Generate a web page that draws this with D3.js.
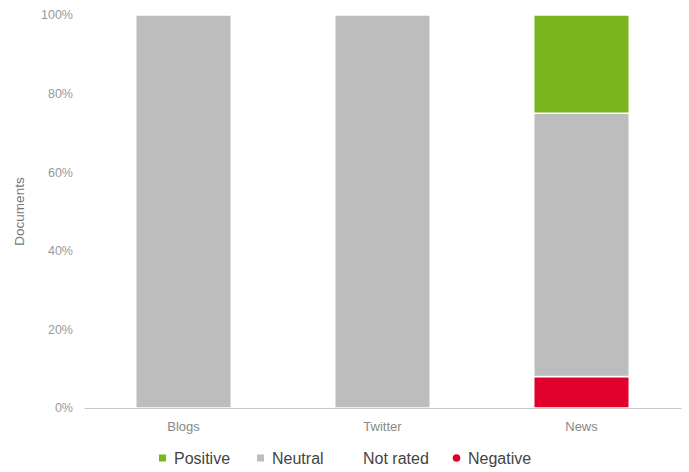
<!DOCTYPE html>
<html>
<head>
<meta charset="utf-8">
<script src="https://cdn.jsdelivr.net/npm/d3@7"></script>
<style>
  body { margin: 0; background: #fff; }
  svg { font-family: Arial, "Liberation Sans", sans-serif; }
</style>
</head>
<body>
<svg id="chart"></svg>
<script>
var width = 689;
var height = 472;
var margin = ({top: 15, right: 8, bottom: 64, left: 84});

// data (percent of documents)
var sources = ["Blogs", "Twitter", "News"];
var sentiments = ["Negative", "Not rated", "Neutral", "Positive"];
var negative = [0, 0, 8];
var notRated = [0, 0, 0];
var neutral = [100, 100, 67];
var positive = [0, 0, 25];
var yTicks = [0, 20, 40, 60, 80, 100];
var legendOrder = ["Positive", "Neutral", "Not rated", "Negative"];

var colors = {"Positive": "#7ab51d", "Neutral": "#bdbdbd", "Not rated": "#ffffff", "Negative": "#e0002b"};

var table = sources.map((s, i) => ({
    source: s,
    "Negative": negative[i],
    "Not rated": notRated[i],
    "Neutral": neutral[i],
    "Positive": positive[i]
}));

var x = d3.scaleBand()
    .domain(sources)
    .range([margin.left, width - margin.right])
    .paddingInner(0.52)
    .paddingOuter(0.26);

var y = d3.scaleLinear()
    .domain([0, 100])
    .range([height - margin.bottom, margin.top]);

var svg = d3.select("#chart")
    .attr("width", width)
    .attr("height", height)
    .attr("viewBox", [0, 0, width, height]);

// y tick labels
svg.append("g")
    .selectAll("text")
    .data(yTicks)
    .join("text")
    .attr("x", 73)
    .attr("y", d => y(d))
    .attr("dy", "0.35em")
    .attr("text-anchor", "end")
    .attr("font-size", 12.5)
    .attr("fill", "#999")
    .text(d => d + "%");

// y label
svg.append("text")
    .attr("transform", "translate(24," + ((y(0) + y(100)) / 2) + ") rotate(-90)")
    .attr("text-anchor", "middle")
    .attr("font-size", 13.5)
    .attr("fill", "#777")
    .text("Documents");

// stacked bars
var series = d3.stack().keys(sentiments)(table);

svg.append("g")
    .selectAll("g")
    .data(series)
    .join("g")
    .attr("fill", d => colors[d.key])
    .selectAll("rect")
    .data(d => d.filter(v => v[1] - v[0] > 0))
    .join("rect")
    .attr("x", d => x(d.data.source))
    .attr("y", d => y(d[1]))
    .attr("width", x.bandwidth())
    .attr("height", d => y(d[0]) - y(d[1]))
    .attr("stroke", "#fff")
    .attr("stroke-width", 1.5);

// x axis
var xAxis = svg.append("g")
    .attr("transform", "translate(0," + y(0) + ")")
    .call(d3.axisBottom(x).tickSize(0).tickPadding(14));
xAxis.select(".domain").attr("stroke", "#c8c8c8");
xAxis.selectAll("text")
    .attr("font-size", 13)
    .attr("font-family", "Arial, 'Liberation Sans', sans-serif")
    .attr("fill", "#888");

// legend
var legendX = [159, 257, 348, 453];
var legend = svg.append("g")
    .selectAll("g")
    .data(legendOrder)
    .join("g")
    .attr("transform", (d, i) => "translate(" + legendX[i] + ",458)");

legend.filter(d => d !== "Negative")
    .append("rect")
    .attr("x", 0)
    .attr("y", -3.5)
    .attr("width", 7)
    .attr("height", 7)
    .attr("fill", d => colors[d]);

legend.filter(d => d === "Negative")
    .append("circle")
    .attr("cx", 3.5)
    .attr("cy", 0)
    .attr("r", 3.8)
    .attr("fill", d => colors[d]);

legend.append("text")
    .attr("x", 15)
    .attr("dy", "0.35em")
    .attr("font-size", 16)
    .attr("fill", "#444")
    .text(d => d);
</script>
</body>
</html>
